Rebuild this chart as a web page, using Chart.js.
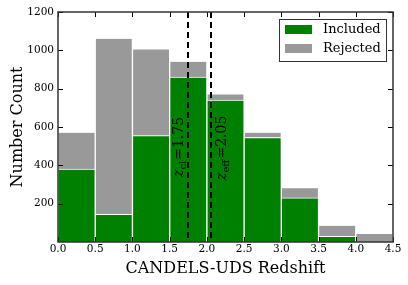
<!DOCTYPE html>
<html>
<head>
<meta charset="utf-8">
<script src="https://cdn.jsdelivr.net/npm/chart.js@4.4.1/dist/chart.umd.min.js"></script>
<style>
  html, body { margin: 0; padding: 0; background: #fff; }
  #wrap { width: 408px; height: 285px; }
</style>
</head>
<body>
<div id="wrap"><canvas id="myChart"></canvas></div>
<script>
// histogram bins (0.5 wide) and counts
const bins = ["0.0-0.5", "0.5-1.0", "1.0-1.5", "1.5-2.0", "2.0-2.5", "2.5-3.0", "3.0-3.5", "3.5-4.0", "4.0-4.5"];
const included = [380, 145, 555, 860, 740, 545, 230, 30, 0];
const rejected = [190, 915, 450, 80, 30, 25, 50, 55, 42];
const xEdges = [0, 0.5, 1.0, 1.5, 2.0, 2.5, 3.0, 3.5, 4.0, 4.5];
const yTicks = [200, 400, 600, 800, 1000, 1200];
const zLines = [1.75, 2.05];
const zSubs = ["cl", "eff"];

const green = "#008000";
const gray = "#999999";
const serif = "'DejaVu Serif', serif";

// frame, inward ticks, dashed redshift lines, labels and legend
const overlay = {
  id: "overlay",
  afterDatasetsDraw(chart) {
    const ctx = chart.ctx;
    const a = chart.chartArea;
    const xs = chart.scales.x2;
    const ys = chart.scales.y;
    ctx.save();

    // dashed lines
    ctx.strokeStyle = "#000";
    ctx.lineWidth = 2;
    ctx.setLineDash([6, 4]);
    zLines.forEach(z => {
      const px = Math.round(xs.getPixelForValue(z));
      ctx.beginPath();
      ctx.moveTo(px, a.top);
      ctx.lineTo(px, a.bottom);
      ctx.stroke();
    });
    ctx.setLineDash([]);

    // rotated labels
    zLines.forEach((z, i) => {
      const px = xs.getPixelForValue(z);
      const bx = i == 0 ? px - 5 : px + 15;
      const by = i == 0 ? 177 : 180;
      ctx.save();
      ctx.translate(bx, by);
      ctx.rotate(-Math.PI / 2);
      ctx.fillStyle = "#000";
      ctx.textBaseline = "alphabetic";
      ctx.textAlign = "left";
      let cx = 0;
      ctx.font = "italic 14px " + serif;
      ctx.fillText("z", cx, 0);
      cx += ctx.measureText("z").width;
      ctx.font = "10px " + serif;
      ctx.fillText(zSubs[i], cx, 3);
      cx += ctx.measureText(zSubs[i]).width + 1;
      ctx.font = "14px " + serif;
      ctx.fillText("=" + z.toFixed(2), cx, 0);
      ctx.restore();
    });

    // inward ticks
    ctx.strokeStyle = "#000";
    ctx.lineWidth = 1;
    ctx.beginPath();
    xEdges.forEach(v => {
      const px = Math.round(xs.getPixelForValue(v)) + 0.5;
      ctx.moveTo(px, a.top); ctx.lineTo(px, a.top + 5);
      ctx.moveTo(px, a.bottom); ctx.lineTo(px, a.bottom - 5);
    });
    yTicks.forEach(v => {
      const py = Math.round(ys.getPixelForValue(v)) + 0.5;
      ctx.moveTo(a.left, py); ctx.lineTo(a.left + 5, py);
      ctx.moveTo(a.right, py); ctx.lineTo(a.right - 5, py);
    });
    ctx.stroke();

    // frame
    ctx.strokeStyle = "#333";
    ctx.lineWidth = 1.5;
    ctx.strokeRect(a.left, a.top, a.right - a.left, a.bottom - a.top);

    // legend
    const lx = 279, ly = 19, lw = 107, lh = 42;
    ctx.fillStyle = "#fff";
    ctx.fillRect(lx, ly, lw, lh);
    ctx.strokeStyle = "#333";
    ctx.lineWidth = 1;
    ctx.strokeRect(lx + 0.5, ly + 0.5, lw, lh);
    const items = [[green, "Included"], [gray, "Rejected"]];
    items.forEach((it, i) => {
      const y0 = ly + 6 + i * 19;
      ctx.fillStyle = it[0];
      ctx.fillRect(lx + 6, y0, 27, 9);
      ctx.fillStyle = "#000";
      ctx.font = "13px " + serif;
      ctx.textBaseline = "middle";
      ctx.textAlign = "left";
      ctx.fillText(it[1], lx + 44, y0 + 5);
    });
    ctx.restore();
  }
};

new Chart("myChart", {
  type: "bar",
  data: {
    labels: bins,
    datasets: [{
      label: "Included",
      data: included,
      backgroundColor: green,
      borderColor: "#fff",
      borderWidth: { left: 1, right: 1, top: 1, bottom: 0 },
      borderSkipped: false,
      barPercentage: 1,
      categoryPercentage: 1
    }, {
      label: "Rejected",
      data: rejected,
      backgroundColor: gray,
      borderColor: "#fff",
      borderWidth: { left: 1, right: 1, top: 0, bottom: 0 },
      borderSkipped: false,
      barPercentage: 1,
      categoryPercentage: 1
    }]
  },
  options: {
    responsive: true,
    maintainAspectRatio: false,
    animation: false,
    layout: { padding: { top: 12, right: 15, left: 0, bottom: 0 } },
    plugins: {
      legend: { display: false },
      tooltip: { enabled: false }
    },
    scales: {
      x: {
        stacked: true,
        display: false
      },
      x2: {
        type: "linear",
        position: "bottom",
        offset: false,
        min: 0,
        max: 4.5,
        grid: { display: false, drawTicks: false, offset: false },
        border: { display: false },
        afterBuildTicks: s => { s.ticks = xEdges.map(v => ({ value: v })); },
        afterFit: s => { s.height = 43; },
        ticks: {
          padding: 1,
          color: "#000",
          font: { family: serif, size: 10.5 },
          callback: v => v.toFixed(1),
          maxRotation: 0
        },
        title: {
          display: true,
          text: "CANDELS-UDS Redshift",
          color: "#000",
          font: { family: serif, size: 16 },
          padding: { top: 0, bottom: 7 }
        }
      },
      y: {
        stacked: true,
        min: 0,
        max: 1200,
        grid: { display: false, drawTicks: false },
        border: { display: false },
        afterBuildTicks: s => { s.ticks = yTicks.map(v => ({ value: v })); },
        afterFit: s => { s.width = 58; },
        ticks: {
          padding: 4,
          color: "#000",
          font: { family: serif, size: 10.5 },
          callback: v => String(v)
        },
        title: {
          display: true,
          text: "Number Count",
          color: "#000",
          font: { family: serif, size: 16 },
          padding: { top: 8, bottom: 0 }
        }
      }
    }
  },
  plugins: [overlay]
});
</script>
</body>
</html>
